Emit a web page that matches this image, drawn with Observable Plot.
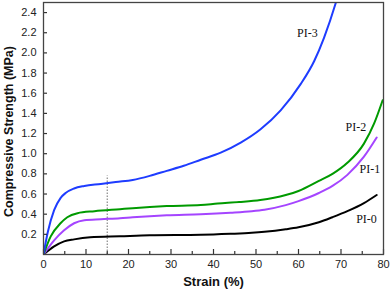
<!DOCTYPE html>
<html>
<head>
<meta charset="utf-8">
<script src="https://cdn.jsdelivr.net/npm/d3@7"></script>
<script src="https://cdn.jsdelivr.net/npm/@observablehq/plot@0.6"></script>
<style>
  html, body { margin: 0; padding: 0; background: #fff; }
  #chart svg { display: block; }
</style>
</head>
<body>
<div id="chart"></div>
<script>
// Data (strain %, compressive strength MPa)
const pi0 = [[0,0],[2.5,0.08],[4.85,0.13],[7.2,0.15],[11,0.17],[18,0.18],[25,0.19],[37,0.195],[44,0.205],[49,0.215],[52,0.225],[57,0.25],[60,0.27],[64.8,0.32],[68,0.37],[71.5,0.43],[75.4,0.51],[78.4,0.59]];
const pi1 = [[0,0],[2.5,0.14],[4.85,0.24],[7.2,0.31],[9.6,0.34],[13.5,0.35],[18,0.36],[21,0.37],[29,0.39],[37,0.40],[44,0.415],[49,0.43],[52,0.445],[57,0.49],[60,0.53],[64.8,0.61],[68,0.68],[71.5,0.79],[75.4,0.97],[78.4,1.16]];
const pi2 = [[0,0],[1.7,0.18],[4,0.31],[5.6,0.37],[8,0.41],[12,0.43],[18,0.45],[21,0.46],[29,0.48],[37,0.49],[41,0.505],[46,0.52],[51,0.54],[57,0.59],[60,0.63],[64.8,0.73],[68,0.80],[71.5,0.91],[75.4,1.10],[77.8,1.30],[79.8,1.53]];
const pi3 = [[0,0],[1,0.22],[2.5,0.44],[4,0.56],[5.2,0.61],[7.2,0.655],[9.6,0.68],[13.5,0.70],[17,0.72],[21,0.74],[25,0.78],[29,0.83],[33,0.88],[37,0.94],[41.7,1.01],[46.4,1.11],[51,1.24],[55.8,1.43],[60.5,1.69],[63.7,1.92],[66,2.15],[68.8,2.5],[69.5,2.6]];

const seriesNames = ["PI-0", "PI-1", "PI-2", "PI-3"];
const seriesColors = ["#000000", "#a545ff", "#009a00", "#1e3cff"];
const seriesLabelX = [76, 76.8, 73.5, 62.1];
const seriesLabelY = [0.35, 0.845, 1.26, 2.2];

const xTicks = [0, 10, 20, 30, 40, 50, 60, 70, 80];
const xMinorTicks = [5, 15, 25, 35, 45, 55, 65, 75];
const yTicks = [0.2, 0.4, 0.6, 0.8, 1.0, 1.2, 1.4, 1.6, 1.8, 2.0, 2.2, 2.4];
const markerStrain = [15];
const markerTop = [0.78];

const allSeries = [pi0, pi1, pi2, pi3];
const rows = allSeries.flatMap((s, i) => s.map(([x, y]) => ({x, y, name: seriesNames[i]})));
const labels = seriesNames.map((n, i) => ({name: n, x: seriesLabelX[i], y: seriesLabelY[i]}));

const W = 392, H = 294, mL = 43, mR = 9, mT = 2, mB = 40;
const plotH = H - mT - mB, plotW = W - mL - mR;

const chart = Plot.plot({
  width: W, height: H,
  marginLeft: mL, marginRight: mR, marginTop: mT, marginBottom: mB,
  style: {fontFamily: "Liberation Sans, Arial, sans-serif", background: "#fff"},
  x: {domain: [0, 80], axis: null},
  y: {domain: [0, 2.5], axis: null},
  color: {domain: seriesNames, range: seriesColors},
  marks: [
    Plot.ruleX(markerStrain, {x: d => d, y1: 0, y2: markerTop[0], stroke: "#888", strokeWidth: 1.2, strokeDasharray: "1.5,1.5"}),
    Plot.line(rows, {x: "x", y: "y", z: "name", stroke: "name", strokeWidth: 2, curve: "monotone-x", clip: true}),
    Plot.text(labels, {x: "x", y: "y", text: "name", fontFamily: "Liberation Serif, Times New Roman, serif", fontSize: 12, fill: "#111"}),
    Plot.tickX(xTicks, {x: d => d, insetTop: plotH - 5, stroke: "#333", strokeWidth: 1.2}),
    Plot.tickX(xMinorTicks, {x: d => d, insetTop: plotH - 3, stroke: "#333", strokeWidth: 1.2}),
    Plot.tickY(yTicks, {y: d => d, insetRight: plotW - 4, stroke: "#333", strokeWidth: 1.2}),
    Plot.axisX(xTicks, {tickSize: 0, tickPadding: 6, fontSize: 11, fill: "#222", label: null}),
    Plot.axisY(yTicks, {tickSize: 0, tickPadding: 7, fontSize: 11, fill: "#222", label: null, tickFormat: d => d.toFixed(1)}),
    Plot.frame({stroke: "#444", strokeWidth: 1.3}),
    Plot.text(["Compressive Strength (MPa)"], {frameAnchor: "left", textAnchor: "middle", rotate: -90, dx: -35, dy: 3, fontSize: 12.5, fontWeight: "bold", fill: "#111"}),
    Plot.text(["Strain (%)"], {frameAnchor: "bottom", dy: 31, fontSize: 13, fontWeight: "bold", fill: "#111"})
  ]
});
document.getElementById("chart").appendChild(chart);
</script>
</body>
</html>
